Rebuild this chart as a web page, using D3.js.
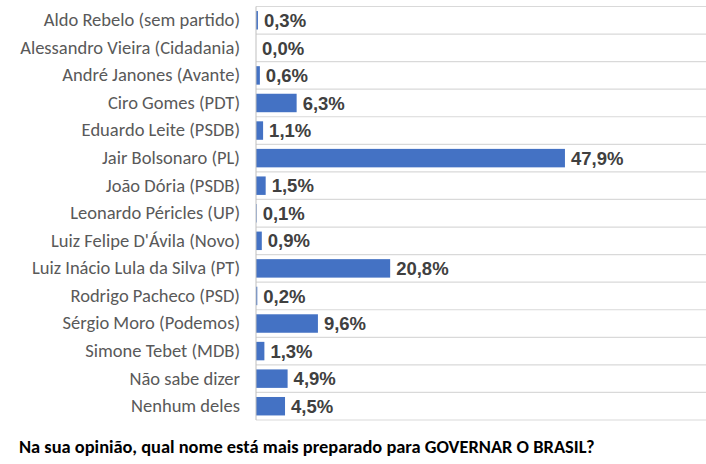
<!DOCTYPE html>
<html lang="pt">
<head>
  <meta charset="UTF-8">
  <title>Preparado para governar</title>
  <script src="https://d3js.org/d3.v7.min.js"></script>
  <style>
    html, body { margin: 0; padding: 0; background: #fff; }
  </style>
</head>
<body>
  <div id="chart"></div>
  <script>
    const candidates = [
      "Aldo Rebelo (sem partido)",
      "Alessandro Vieira (Cidadania)",
      "André Janones (Avante)",
      "Ciro Gomes (PDT)",
      "Eduardo Leite (PSDB)",
      "Jair Bolsonaro (PL)",
      "João Dória (PSDB)",
      "Leonardo Péricles (UP)",
      "Luiz Felipe D'Ávila (Novo)",
      "Luiz Inácio Lula da Silva (PT)",
      "Rodrigo Pacheco (PSD)",
      "Sérgio Moro (Podemos)",
      "Simone Tebet (MDB)",
      "Não sabe dizer",
      "Nenhum deles"
    ];
    const percents = [0.3, 0.0, 0.6, 6.3, 1.1, 47.9, 1.5, 0.1, 0.9, 20.8, 0.2, 9.6, 1.3, 4.9, 4.5];
    const question = "Na sua opinião, qual nome está mais preparado para GOVERNAR O BRASIL?";

    const width = 706, height = 464;
    const margin = { top: 6.5, right: 0, bottom: 44, left: 256 };
    const labelFont = "Carlito, 'Liberation Sans Narrow', 'Open Sans', sans-serif";

    const svg = d3.select("#chart").append("svg")
      .attr("width", width)
      .attr("height", height);

    const x = d3.scaleLinear()
      .domain([0, 1])
      .range([margin.left, margin.left + 6.45]);

    const y = d3.scaleBand()
      .domain(candidates)
      .range([margin.top, height - margin.bottom])
      .paddingInner(0.33)
      .paddingOuter(0.165);

    const step = y.step();

    // row separators
    svg.append("g")
      .selectAll("line")
      .data(d3.range(candidates.length + 1))
      .join("line")
      .attr("x1", margin.left)
      .attr("x2", width)
      .attr("y1", i => margin.top + i * step)
      .attr("y2", i => margin.top + i * step)
      .attr("stroke", "#d9d9d9")
      .attr("stroke-width", 1.2);

    // bars
    svg.append("g")
      .selectAll("rect")
      .data(percents)
      .join("rect")
      .attr("x", x(0))
      .attr("y", (d, i) => y(candidates[i]))
      .attr("width", d => x(d) - x(0))
      .attr("height", y.bandwidth())
      .attr("fill", "#4472c4");

    // vertical axis line
    svg.append("line")
      .attr("x1", margin.left)
      .attr("x2", margin.left)
      .attr("y1", margin.top)
      .attr("y2", height - margin.bottom)
      .attr("stroke", "#bfbfbf")
      .attr("stroke-width", 1);

    // category labels
    const yAxis = d3.axisLeft(y).tickSize(0).tickPadding(16);
    const gy = svg.append("g")
      .attr("transform", `translate(${margin.left},0)`)
      .call(yAxis);
    gy.select(".domain").remove();
    gy.selectAll("text")
      .attr("font-family", labelFont)
      .attr("font-size", 16)
      .attr("fill", "#595959");

    // fit category labels to the reference width
    const widest = gy.selectAll("text").nodes()
      .map(n => n.getComputedTextLength());
    const labelSize = 16 * 220 / d3.max(widest);
    gy.selectAll("text").attr("font-size", labelSize);

    // value labels
    svg.append("g")
      .selectAll("text")
      .data(percents)
      .join("text")
      .attr("x", d => x(d) + 6)
      .attr("y", (d, i) => y(candidates[i]) + y.bandwidth() / 2)
      .attr("dy", "0.36em")
      .attr("font-family", "'Liberation Sans', Arial, sans-serif")
      .attr("font-weight", "bold")
      .attr("font-size", 18.5)
      .attr("fill", "#404040")
      .text(d => d3.format(".1f")(d).replace(".", ",") + "%");

    // question below chart
    const title = svg.append("text")
      .attr("x", 19)
      .attr("y", 453)
      .attr("font-family", labelFont)
      .attr("font-weight", "bold")
      .attr("font-size", 15)
      .attr("fill", "#000")
      .text(question);
    const tw = title.node().getComputedTextLength();
    title.attr("font-size", 15 * 576 / tw);
  </script>
</body>
</html>
